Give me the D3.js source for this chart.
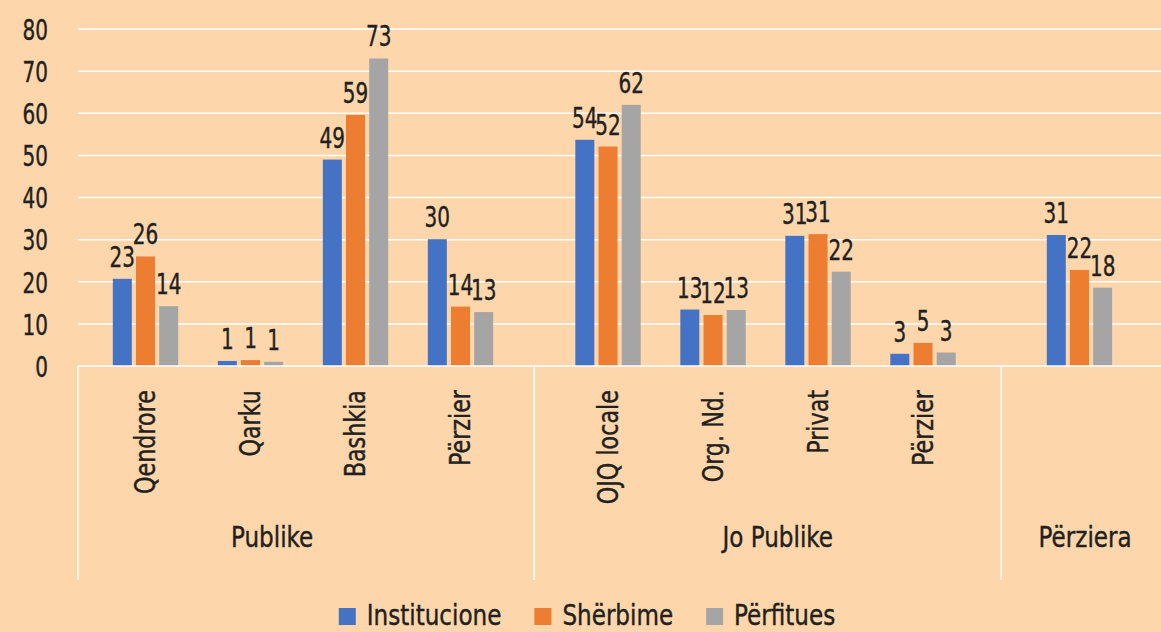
<!DOCTYPE html>
<html>
<head>
<meta charset="utf-8">
<script src="https://cdn.jsdelivr.net/npm/d3@7"></script>
<style>
  body { margin: 0; background: #FDD7AB; }
  svg text { font-family: "DejaVu Sans Condensed", "DejaVu Sans", sans-serif; fill: #231F20; stroke: #231F20; stroke-width: 0.4px; }
</style>
</head>
<body>
<div id="chart"></div>
<script>
// Données
const groups = ["Publike", "Jo Publike", "Përziera"];
const categories = ["Qendrore", "Qarku", "Bashkia", "Përzier", "OJQ locale", "Org. Nd.", "Privat", "Përzier", ""];
const categoryGroup = [0, 0, 0, 0, 1, 1, 1, 1, 2];
const series = ["Institucione", "Shërbime", "Përfitues"];
const institucione = [20.7, 1.2, 49, 30.1, 53.7, 13.4, 30.9, 2.9, 31.1];
const sherbime = [26, 1.4, 59.6, 14.1, 52.1, 12.1, 31.3, 5.5, 22.8];
const perfitues = [14.2, 1, 73, 12.8, 62, 13.3, 22.4, 3.2, 18.6];
const labelsInst = ["23", "1", "49", "30", "54", "13", "31", "3", "31"];
const labelsSherb = ["26", "1", "59", "14", "52", "12", "31", "5", "22"];
const labelsPerf = ["14", "1", "73", "13", "62", "13", "22", "3", "18"];
const yTicks = [0, 10, 20, 30, 40, 50, 60, 70, 80];

const colors = ["#4472C4", "#ED7D31", "#A5A5A5"];
const values = [institucione, sherbime, perfitues];
const labels = [labelsInst, labelsSherb, labelsPerf];

const W = 1161, H = 632;
const plotLeft = 78, plotRight = 1161;
const groupGap = [0, 0.405, 0.895];
const fontSize = 28.5;
const numScale = 0.78;   // police plus étroite pour les chiffres
const wordScale = 0.9;

const svg = d3.select("#chart").append("svg")
  .attr("width", W).attr("height", H);

svg.append("rect").attr("width", W).attr("height", H).attr("fill", "#FDD7AB");

// Échelles
const yScale = d3.scaleLinear().domain([0, 80]).range([366, 29]);
const slotScale = d3.scaleLinear().domain([0, 1]).range([145.5, 250.5]);
const slot = i => i + groupGap[categoryGroup[i]];
const xCenter = i => slotScale(slot(i));
const xInner = d3.scaleBand().domain(series).range([-32.7, 32.7]).paddingInner(0.18);

// Grille
svg.append("g").selectAll("line")
  .data(yTicks.filter(t => t > 0))
  .enter().append("line")
  .attr("x1", plotLeft).attr("x2", plotRight)
  .attr("y1", d => yScale(d)).attr("y2", d => yScale(d))
  .attr("stroke", "#fff").attr("stroke-width", 1.5);

// Axe Y
const yAxis = svg.append("g")
  .attr("transform", `translate(48,0)`)
  .call(d3.axisLeft(yScale).tickValues(yTicks).tickSize(0).tickPadding(0));
yAxis.select(".domain").remove();
yAxis.selectAll("text")
  .attr("font-size", fontSize)
  .attr("font-family", null)
  .attr("x", 0)
  .attr("dy", "0.36em")
  .attr("transform", `scale(${numScale},1)`);

// Barres
series.forEach((s, k) => {
  svg.append("g").selectAll("rect")
    .data(values[k])
    .enter().append("rect")
    .attr("x", (d, i) => xCenter(i) + xInner(s))
    .attr("y", d => yScale(d))
    .attr("width", xInner.bandwidth())
    .attr("height", d => yScale(0) - yScale(d))
    .attr("fill", colors[k]);

  svg.append("g").selectAll("text")
    .data(values[k])
    .enter().append("text")
    .attr("transform", (d, i) =>
      `translate(${xCenter(i) + xInner(s) + xInner.bandwidth() / 2},${yScale(d) - 12}) scale(${numScale},1)`)
    .attr("text-anchor", "middle")
    .attr("font-size", fontSize)
    .text((d, i) => labels[k][i]);
});

// Axe des catégories (deux niveaux)
svg.append("line")
  .attr("x1", plotLeft).attr("x2", plotRight)
  .attr("y1", yScale(0)).attr("y2", yScale(0))
  .attr("stroke", "#fff").attr("stroke-width", 1.5);

const firstOf = g => categoryGroup.indexOf(g);
const lastOf = g => categoryGroup.lastIndexOf(g);
const separators = [plotLeft].concat(groups.slice(1).map((g, j) =>
  (xCenter(lastOf(j)) + xCenter(firstOf(j + 1))) / 2));

svg.append("g").selectAll("line")
  .data(separators)
  .enter().append("line")
  .attr("x1", d => d).attr("x2", d => d)
  .attr("y1", yScale(0)).attr("y2", 580)
  .attr("stroke", "#fff").attr("stroke-width", 1.5);

svg.append("g").selectAll("text")
  .data(categories)
  .enter().append("text")
  .attr("transform", (d, i) => `translate(${xCenter(i)},390) rotate(-90) scale(${wordScale},1)`)
  .attr("dy", "0.36em")
  .attr("text-anchor", "end")
  .attr("font-size", 27.5)
  .text(d => d);

const groupEdges = separators.concat([plotRight]);
const groupShift = [-34, 10, 4];
svg.append("g").selectAll("text")
  .data(groups)
  .enter().append("text")
  .attr("transform", (d, j) =>
    `translate(${(groupEdges[j] + groupEdges[j + 1]) / 2 + groupShift[j]},547) scale(${wordScale},1)`)
  .attr("text-anchor", "middle")
  .attr("font-size", fontSize)
  .text(d => d);

// Légende
const legend = svg.append("g");
let lx = 0;
series.forEach((s, k) => {
  const item = legend.append("g").attr("transform", `translate(${lx},0)`);
  item.append("rect").attr("x", 0).attr("y", -17).attr("width", 17).attr("height", 17)
    .attr("fill", colors[k]);
  const t = item.append("text")
    .attr("transform", `translate(28,0) scale(${wordScale},1)`)
    .attr("font-size", fontSize).text(s);
  lx += 28 + t.node().getComputedTextLength() * wordScale + 33;
});
const legendWidth = lx - 33;
legend.attr("transform", `translate(${587 - legendWidth / 2},625)`);
</script>
</body>
</html>
